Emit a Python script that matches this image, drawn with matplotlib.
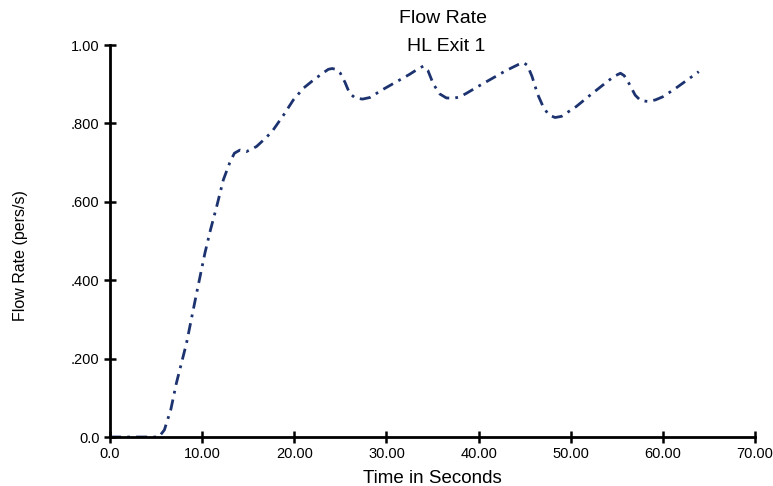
import matplotlib.pyplot as plt

# values
time_s = [0, 5.3, 5.9, 6.6, 7.2, 8.3, 9.4, 10.3, 10.9, 11.6, 12.3, 13.0, 13.5, 14.1,
          14.8, 15.9, 17.0, 17.7, 18.8, 19.9, 21.0, 22.1, 23.2, 23.7, 24.1, 24.5,
          25.0, 25.5, 26.0, 26.6, 27.4, 28.2, 29.5, 31.0, 32.5, 33.5, 34.0, 34.5,
          35.1, 35.8, 36.5, 37.3, 38.0, 38.7, 40.0, 41.5, 43.0, 44.3, 44.9, 45.3,
          45.8, 46.4, 47.0, 47.6, 48.3, 49.0, 50.6, 52.0, 53.5, 54.7, 55.4, 55.8,
          56.3, 57.0, 57.6, 58.4, 59.2, 60.0, 61.3, 62.6, 63.9]
flow_rate = [0.0, 0.0, 0.018, 0.07, 0.137, 0.239, 0.367, 0.469, 0.528, 0.59, 0.656,
             0.70, 0.724, 0.732, 0.728, 0.741, 0.765, 0.783, 0.82, 0.860, 0.89,
             0.911, 0.93, 0.938, 0.94, 0.938, 0.928, 0.905, 0.877, 0.865, 0.862,
             0.866, 0.885, 0.905, 0.925, 0.94, 0.946, 0.935, 0.90, 0.875, 0.865,
             0.864, 0.868, 0.877, 0.895, 0.915, 0.935, 0.95, 0.955, 0.948, 0.92,
             0.875, 0.843, 0.822, 0.815, 0.818, 0.843, 0.87, 0.898, 0.92, 0.928,
             0.922, 0.903, 0.872, 0.858, 0.856, 0.86, 0.868, 0.888, 0.91, 0.932]

x_ticks = [0, 10, 20, 30, 40, 50, 60, 70]
x_labels = ["0.0", "10.00", "20.00", "30.00", "40.00", "50.00", "60.00", "70.00"]
y_ticks = [0, 0.2, 0.4, 0.6, 0.8, 1.0]
y_labels = ["0.0", ".200", ".400", ".600", ".800", "1.00"]

plt.rcParams['font.family'] = ['Liberation Sans', 'DejaVu Sans']

fig = plt.figure(figsize=(7.73, 4.86), dpi=100)
ax = fig.add_axes([0.1423, 0.1008, 0.8344, 0.8066])

ax.plot(time_s, flow_rate, color='#1c3370', linewidth=2.0,
        linestyle=(0, (4, 2.2, 1, 2.2)))

ax.set_xlim(0, 70)
ax.set_ylim(0, 1.0)
ax.set_xticks(x_ticks)
ax.set_xticklabels(x_labels)
ax.set_yticks(y_ticks)
ax.set_yticklabels(y_labels)
ax.tick_params(direction='inout', length=9, width=1.8, labelsize=10.5, pad=3)

for side in ['top', 'right']:
    ax.spines[side].set_visible(False)
for side in ['left', 'bottom']:
    ax.spines[side].set_linewidth(2)
    ax.spines[side].set_clip_on(False)

ax.set_xlabel("Time in Seconds", fontsize=13.5, labelpad=6)
ax.set_ylabel("Flow Rate (pers/s)", fontsize=11.5, va='center')
ax.yaxis.set_label_coords(-0.139, 0.464)

fig.text(0.5735, 0.961, "Flow Rate", ha='center', va='center', fontsize=14)
fig.text(0.5775, 0.905, "HL Exit 1", ha='center', va='center', fontsize=14)

fig.savefig("out.png", dpi=100)
